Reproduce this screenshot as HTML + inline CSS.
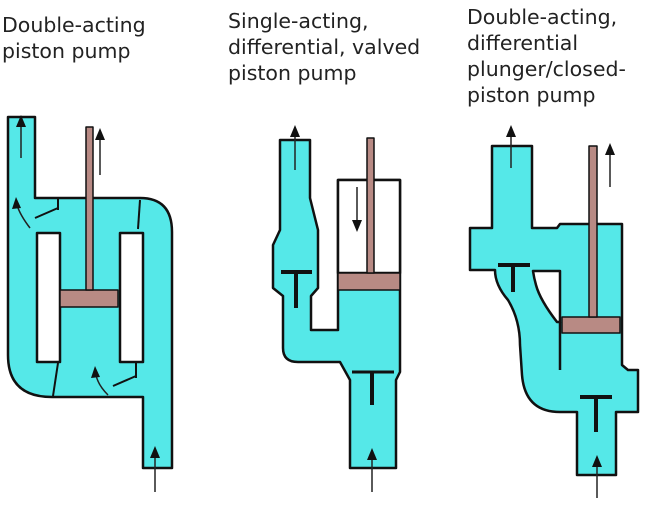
<!DOCTYPE html>
<html><head><style>
html,body{margin:0;padding:0;background:#fff;width:655px;height:512px;overflow:hidden}
svg{display:block}
text{font-family:"DejaVu Sans","Liberation Sans",sans-serif;font-size:20.5px;fill:#222}
</style></head><body>
<svg width="655" height="512" viewBox="0 0 655 512" xmlns="http://www.w3.org/2000/svg">
<text x="2" y="32">Double-acting</text>
<text x="2" y="58">piston pump</text>
<text x="228" y="28">Single-acting,</text>
<text x="228" y="54">differential, valved</text>
<text x="228" y="80">piston pump</text>
<text x="467" y="24">Double-acting,</text>
<text x="467" y="50">differential</text>
<text x="467" y="76">plunger/closed-</text>
<text x="467" y="102">piston pump</text>

<g stroke="#111" stroke-width="2.5" stroke-linejoin="round">
<!-- Diagram 1 -->
<path d="M8,117 L35,117 L35,198 L140,198 Q172,198 172,232 L172,468 L143,468 L143,397 L52,397 Q8,397 8,355 Z" fill="#55e8e8"/>
<rect x="37" y="233" width="23" height="129" fill="#fff"/>
<rect x="120" y="233" width="23" height="129" fill="#fff"/>
<rect x="60" y="290" width="58" height="17" fill="#b88a84" stroke-width="1.5"/>
<rect x="86" y="127" width="7" height="163" fill="#b88a84" stroke-width="1.5"/>
<line x1="35" y1="218" x2="58" y2="208" stroke-width="2"/>
<line x1="58" y1="198" x2="58" y2="210" stroke-width="2"/>
<line x1="138" y1="229" x2="140" y2="200" stroke-width="2"/>
<line x1="113" y1="386" x2="136" y2="376" stroke-width="2"/>
<line x1="136" y1="362" x2="136" y2="378" stroke-width="2"/>
<line x1="53" y1="396" x2="58" y2="363" stroke-width="2"/>

<!-- Diagram 2 -->
<path d="M280,140 L310,140 L310,198 L318,230 L318,288 L311,296 L311,330 L338,330 L338,180 L400,180 L400,372 L396,380 L396,468 L350,468 L350,380 L340,362 L298,362 Q283,362 283,348 L283,296 L273,288 L273,245 L280,230 Z" fill="#55e8e8"/>
<rect x="338" y="180" width="62" height="93" fill="#fff"/>
<rect x="338" y="273" width="62" height="17" fill="#b88a84" stroke-width="1.5"/>
<rect x="367" y="138" width="7" height="135" fill="#b88a84" stroke-width="1.5"/>
<line x1="281" y1="272" x2="312" y2="272" stroke-width="4"/>
<line x1="296" y1="272" x2="296" y2="308" stroke-width="4"/>
<line x1="352" y1="372" x2="394" y2="372" stroke-width="3"/>
<line x1="372" y1="372" x2="372" y2="405" stroke-width="4"/>

<!-- Diagram 3 -->
<path d="M492,146 L532,146 L532,228 L557,228 L560,224 L622,224 L622,365 L628,370 L638,370 L638,412 L616,412 L616,475 L577,475 L577,412 L560,412 Q525,412 522,375 L520,345 Q520,320 508,300 Q495,285 495,270 L470,270 L470,228 L492,228 Z" fill="#55e8e8"/>
<path d="M533,271 L560,271 L560,322 L557,322 Q540,300 536,285 Q534,278 533,271 Z" fill="#fff"/>
<line x1="560" y1="322" x2="560" y2="370" stroke-width="2.5"/>
<rect x="562" y="317" width="58" height="16" fill="#b88a84" stroke-width="1.5"/>
<rect x="589" y="146" width="8" height="171" fill="#b88a84" stroke-width="1.5"/>
<line x1="498" y1="265" x2="530" y2="265" stroke-width="4"/>
<line x1="513" y1="265" x2="513" y2="292" stroke-width="4"/>
<line x1="580" y1="397" x2="612" y2="397" stroke-width="4"/>
<line x1="596" y1="397" x2="596" y2="432" stroke-width="4"/>
</g>

<g stroke="#222" stroke-width="1.5" fill="#111">
<line x1="21" y1="158" x2="21" y2="122"/><polygon points="16,127 21,115 26,127" stroke="none"/>
<line x1="100" y1="175" x2="100" y2="135"/><polygon points="95,140 100,128 105,140" stroke="none"/>
<line x1="155" y1="492" x2="155" y2="453"/><polygon points="150,458 155,446 160,458" stroke="none"/>
<path d="M30,228 Q20,215 17,205" fill="none"/><polygon points="12,209 16,197 21,208" stroke="none"/>
<path d="M108,395 Q98,385 96,375" fill="none"/><polygon points="91,378 95,366 100,377" stroke="none"/>

<line x1="295" y1="170" x2="295" y2="132"/><polygon points="290,137 295,125 300,137" stroke="none"/>
<line x1="357" y1="187" x2="357" y2="224"/><polygon points="352,220 357,232 362,220" stroke="none"/>
<line x1="372" y1="492" x2="372" y2="455"/><polygon points="367,460 372,448 377,460" stroke="none"/>

<line x1="511" y1="168" x2="511" y2="132"/><polygon points="506,137 511,125 516,137" stroke="none"/>
<line x1="610" y1="187" x2="610" y2="150"/><polygon points="605,155 610,143 615,155" stroke="none"/>
<line x1="597" y1="498" x2="597" y2="462"/><polygon points="592,467 597,455 602,467" stroke="none"/>
</g>
</svg>
</body></html>
